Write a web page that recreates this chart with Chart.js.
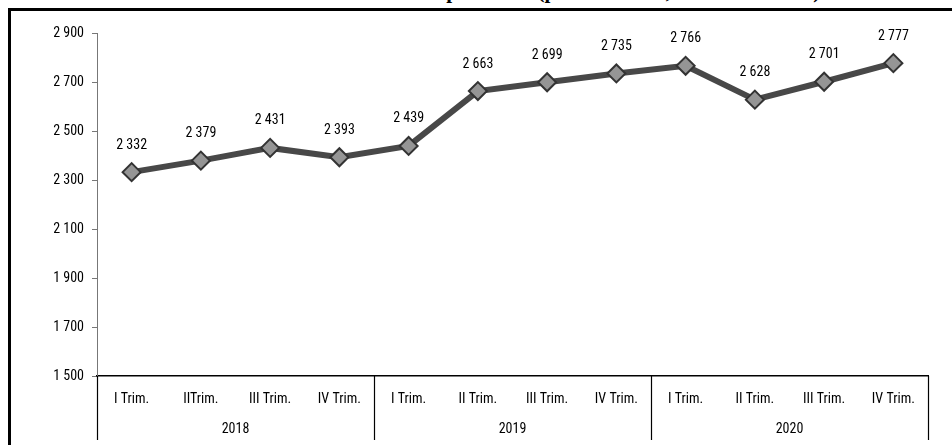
<!DOCTYPE html>
<html>
<head>
<meta charset="utf-8">
<script src="https://cdn.jsdelivr.net/npm/chart.js@4/dist/chart.umd.min.js"></script>
<style>
  html, body { margin: 0; padding: 0; background: #fff; overflow: hidden; }
  #wrap { position: relative; width: 952px; height: 445px; }
  #chart { position: absolute; left: 0; top: 0; }
  #frame { position: absolute; left: 8px; top: 8px; width: 1000px; height: 500px;
           border: 3px solid #000; pointer-events: none; }
  #title { position: absolute; left: 337px; top: -21px; line-height: 24px;
           font: bold 21px 'Liberation Serif', 'Times New Roman', serif; color: #000; white-space: nowrap; }
</style>
</head>
<body>
<div id="wrap">
  <div id="title">Salario real promedio (pesos de 2018, a valores reales)</div>
  <canvas id="chart" width="952" height="445"></canvas>
  <div id="frame"></div>
</div>
<script>
// data
var quarters = ['I Trim.', 'IITrim.', 'III Trim.', 'IV Trim.',
                'I Trim.', 'II Trim.', 'III Trim.', 'IV Trim.',
                'I Trim.', 'II Trim.', 'III Trim.', 'IV Trim.'];
var years = ['2018', '2019', '2020'];
var values = [2332, 2379, 2431, 2393, 2439, 2663, 2699, 2735, 2766, 2628, 2701, 2777];
var yTicks = [1500, 1700, 1900, 2100, 2300, 2500, 2700, 2900];

var narrow = "'Roboto Condensed', 'Liberation Sans', Arial, sans-serif";

function fmt(v) {
  return String(v).replace(/\B(?=(\d{3})+(?!\d))/g, ' ');
}

// value labels above points
var pointLabels = {
  id: 'pointLabels',
  afterDatasetsDraw: function(chart) {
    var ctx = chart.ctx;
    var meta = chart.getDatasetMeta(0);
    ctx.save();
    ctx.font = '14px ' + narrow;
    ctx.fillStyle = '#000';
    ctx.textAlign = 'center';
    ctx.textBaseline = 'middle';
    meta.data.forEach(function(pt, i) {
      ctx.fillText(fmt(values[i]), pt.x, pt.y - 27);
    });
    ctx.restore();
  }
};

// year row and group separators below the x axis
var yearGroups = {
  id: 'yearGroups',
  afterDraw: function(chart) {
    var ctx = chart.ctx;
    var x = chart.scales.x;
    var area = chart.chartArea;
    var per = quarters.length / years.length;
    var step = (area.right - area.left) / quarters.length;
    ctx.save();
    ctx.strokeStyle = '#000';
    ctx.lineWidth = 1.2;
    for (var g = 0; g <= years.length; g++) {
      var px = Math.round(x.getPixelForValue(g * per) - step / 2) + 0.5;
      ctx.beginPath();
      ctx.moveTo(px, area.bottom);
      ctx.lineTo(px, area.bottom + 64);
      ctx.stroke();
    }
    ctx.font = '14px ' + narrow;
    ctx.fillStyle = '#000';
    ctx.textAlign = 'center';
    ctx.textBaseline = 'middle';
    years.forEach(function(y, g) {
      var a = x.getPixelForValue(g * per);
      var b = x.getPixelForValue(g * per + per - 1);
      ctx.fillText(y, (a + b) / 2, area.bottom + 53);
    });
    ctx.restore();
  }
};

new Chart(document.getElementById('chart').getContext('2d'), {
  type: 'line',
  data: {
    labels: quarters,
    datasets: [{
      data: values,
      borderColor: '#484848',
      borderWidth: 6,
      pointStyle: 'rectRot',
      pointRadius: 9,
      pointHoverRadius: 9,
      pointBackgroundColor: '#959595',
      pointBorderColor: '#333',
      pointBorderWidth: 2,
      tension: 0
    }]
  },
  options: {
    responsive: false,
    animation: false,
    layout: { padding: { top: 33, right: 24, left: 0, bottom: 0 } },
    plugins: { legend: { display: false }, tooltip: { enabled: false } },
    scales: {
      x: {
        offset: true,
        grid: { display: false },
        border: { color: '#000', width: 1.5 },
        ticks: { color: '#000', font: { family: narrow, size: 14 }, padding: 7, maxRotation: 0 },
        afterFit: function(s) { s.height = 69; }
      },
      y: {
        min: 1500,
        max: 2900,
        afterBuildTicks: function(s) { s.ticks = yTicks.map(function(v) { return { value: v }; }); },
        grid: { drawOnChartArea: false, tickLength: 5, color: '#777' },
        border: { color: '#777', width: 1 },
        ticks: { color: '#000', font: { family: narrow, size: 14 }, padding: 8,
                 callback: function(v) { return fmt(v); } },
        afterFit: function(s) { s.width = 97; }
      }
    }
  },
  plugins: [pointLabels, yearGroups]
});
</script>
</body>
</html>
